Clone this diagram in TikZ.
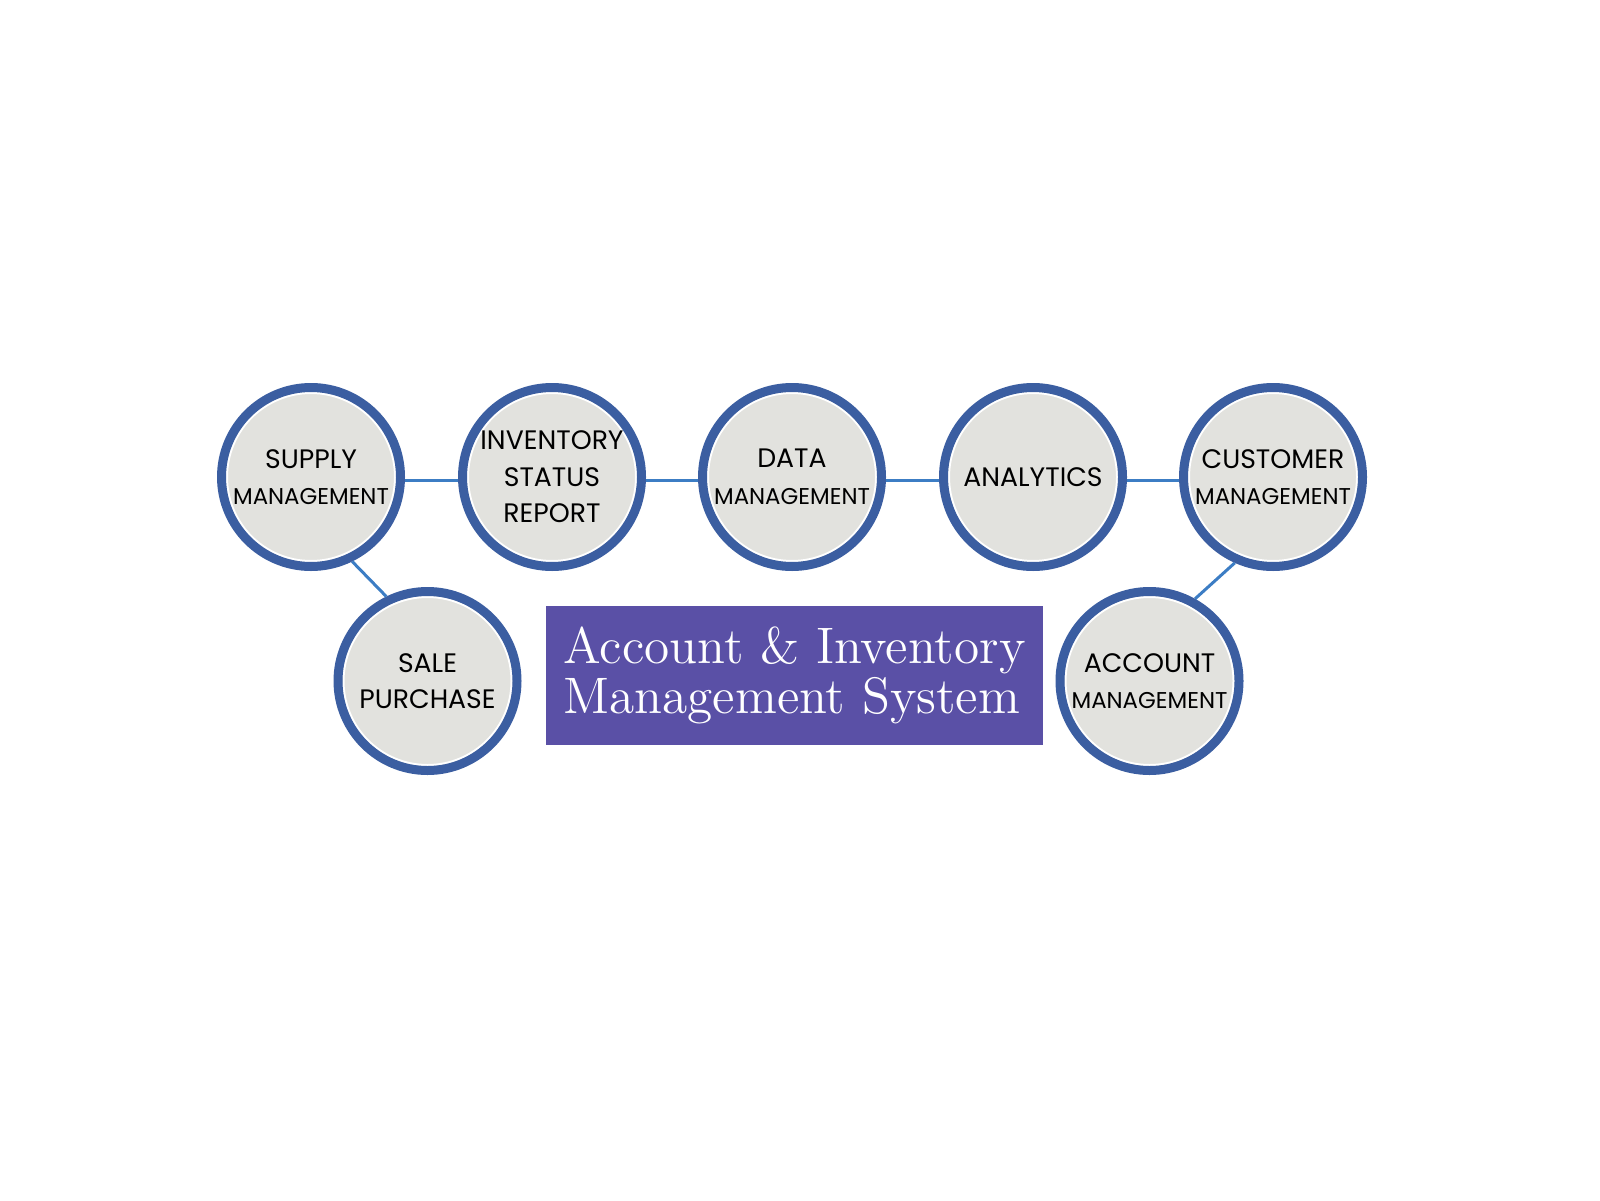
\documentclass[tikz,border=0pt]{standalone}
\usepackage{fontspec}
\newfontfamily\gothic{Poppins}
\usetikzlibrary{positioning}
\definecolor{ringblue}{HTML}{3B5EA1}
\definecolor{discgray}{HTML}{E2E2DE}
\definecolor{linkblue}{HTML}{3C7DC4}
\definecolor{titlepurple}{HTML}{5A50A6}
\newcommand\smalltag[1]{{\fontsize{6.5}{10.4}\selectfont #1}}
\tikzset{
  module/.style={circle, minimum size=1.79cm, inner sep=0pt, fill=discgray,
    draw=ringblue, line width=0.09cm, align=center, text=black,
    font=\gothic\fontsize{7.6}{10.4}\selectfont,
    path picture={\draw[white, line width=0.02cm] (path picture bounding box.center) circle (0.84cm);}},
  link/.style={draw=linkblue, line width=0.03cm},
  titlebox/.style={fill=titlepurple, text=white, minimum width=4.97cm,
    minimum height=1.39cm, inner sep=0pt, align=left,
    font=\fontsize{14.6}{14.2}\selectfont}
}
\begin{document}
\begin{tikzpicture}
		%%%%% START %%%%%
		\useasboundingbox (0, 0) rectangle (16, 12);
		
		% top row
		\node[module] (supply) at (3.11, 7.23) {SUPPLY\\\smalltag{MANAGEMENT}};
		\node[module] (inventory) at (5.52, 7.23) {\raisebox{-0.8pt}{INVENTORY}\\\raisebox{-0.8pt}{STATUS}\\\raisebox{-0.8pt}{REPORT}};
		\node[module] (data) at (7.92, 7.23) {DATA\\\smalltag{MANAGEMENT}};
		\node[module] (analytics) at (10.33, 7.23) {ANALYTICS};
		\node[module] (customer) at (12.73, 7.23) {CUSTOMER\\\smalltag{MANAGEMENT}};
		
		% bottom row
		\node[module] (sale) at (4.275, 5.19) {SALE\\PURCHASE};
		\node[module] (account) at (11.495, 5.19) {ACCOUNT\\\smalltag{MANAGEMENT}};
		
		\node[titlebox] (title) at (7.945, 5.245) {Account \& Inventory\\Management System};
		
		% links
		\draw[link] (supply.-2.5) -- (inventory.182.5);
		\draw[link] (inventory.-2.5) -- (data.182.5);
		\draw[link] (data.-2.5) -- (analytics.182.5);
		\draw[link] (analytics.-2.5) -- (customer.182.5);
		\draw[link] (supply.-64) -- (sale.116);
		\draw[link] (customer.-114) -- (account.61);
		
		%%%%% END %%%%%
\end{tikzpicture}
\end{document}
